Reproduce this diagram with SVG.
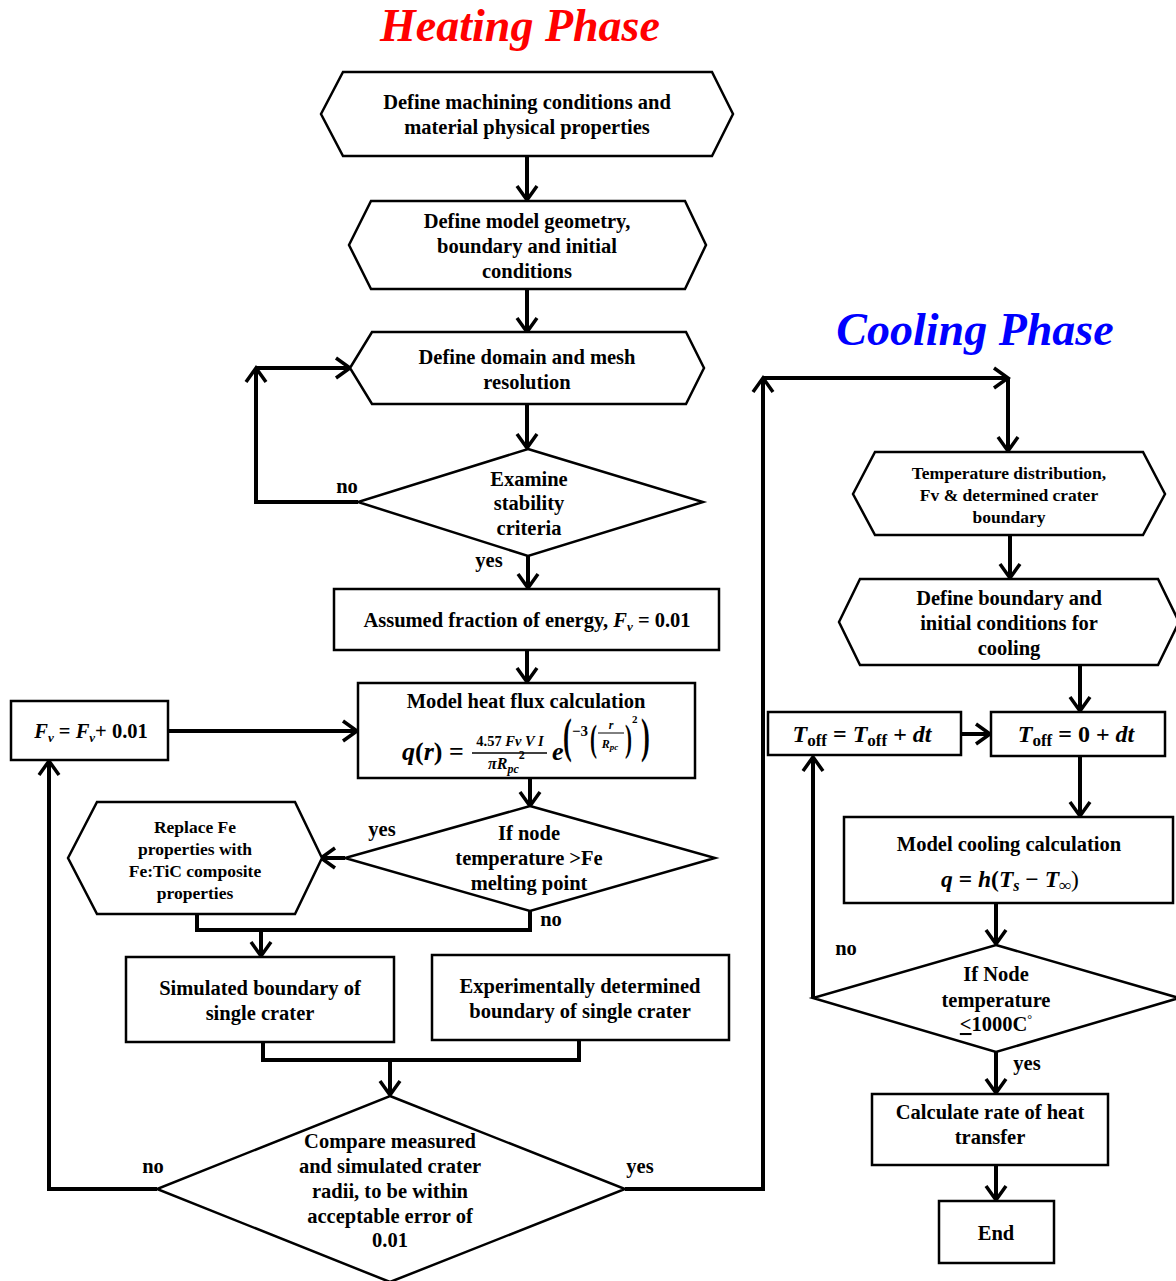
<svg xmlns="http://www.w3.org/2000/svg" width="1176" height="1281" viewBox="0 0 1176 1281">
<defs>
<style>
.s{fill:#fff;stroke:#000;stroke-width:2.5;stroke-linejoin:miter}
.c{fill:none;stroke:#000;stroke-width:4;stroke-linejoin:miter}
.t{font-family:"Liberation Serif","Times New Roman",serif;font-weight:bold;font-size:20.5px;text-anchor:middle;fill:#000}
.sm{font-size:17.5px}
.m{font-family:"Liberation Serif","Times New Roman",serif;font-weight:bold;font-style:italic;fill:#000}
.u{font-style:normal}
.title{font-family:"Liberation Serif","Times New Roman",serif;font-weight:bold;font-style:italic;font-size:46px;text-anchor:middle}
</style>
<marker id="a" markerUnits="userSpaceOnUse" markerWidth="24" markerHeight="24" viewBox="0 0 24 24" refX="20" refY="12" orient="auto">
<path d="M6,2 L20,12 L6,22" fill="none" stroke="#000" stroke-width="3.5"/>
</marker>
</defs>
<rect width="1176" height="1281" fill="#fff"/>

<text class="title" x="520" y="41" fill="#FF0000">Heating Phase</text>
<text class="title" x="975" y="345" fill="#0000FF">Cooling Phase</text>

<g id="connectors">
<line class="c" x1="527" y1="156" x2="527" y2="200" marker-end="url(#a)"/>
<line class="c" x1="527" y1="289" x2="527" y2="332" marker-end="url(#a)"/>
<line class="c" x1="527" y1="404" x2="527" y2="448" marker-end="url(#a)"/>
<polyline class="c" points="358,502 256,502 256,368" marker-end="url(#a)"/>
<line class="c" x1="256" y1="368" x2="350" y2="368" marker-end="url(#a)"/>
<line class="c" x1="528" y1="556" x2="528" y2="588" marker-end="url(#a)"/>
<line class="c" x1="527" y1="650" x2="527" y2="682" marker-end="url(#a)"/>
<line class="c" x1="168" y1="731" x2="357" y2="731" marker-end="url(#a)"/>
<line class="c" x1="530" y1="778" x2="530" y2="806" marker-end="url(#a)"/>
<line class="c" x1="345" y1="858" x2="321" y2="858" marker-end="url(#a)"/>
<polyline class="c" points="197,914 197,930 530,930 530,911"/>
<line class="c" x1="261" y1="930" x2="261" y2="956" marker-end="url(#a)"/>
<polyline class="c" points="263,1042 263,1060 579,1060 579,1040"/>
<line class="c" x1="390" y1="1060" x2="390" y2="1095" marker-end="url(#a)"/>
<polyline class="c" points="157,1189 49,1189 49,761" marker-end="url(#a)"/>
<polyline class="c" points="625,1189 763,1189 763,378" marker-end="url(#a)"/>
<line class="c" x1="763" y1="378" x2="1008" y2="378" marker-end="url(#a)"/>
<line class="c" x1="1008" y1="378" x2="1008" y2="451" marker-end="url(#a)"/>
<line class="c" x1="1010" y1="535" x2="1010" y2="578" marker-end="url(#a)"/>
<line class="c" x1="1080" y1="665" x2="1080" y2="711" marker-end="url(#a)"/>
<line class="c" x1="961" y1="734" x2="990" y2="734" marker-end="url(#a)"/>
<line class="c" x1="1080" y1="756" x2="1080" y2="816" marker-end="url(#a)"/>
<line class="c" x1="996" y1="903" x2="996" y2="944" marker-end="url(#a)"/>
<polyline class="c" points="813,998 813,757" marker-end="url(#a)"/>
<line class="c" x1="996" y1="1052" x2="996" y2="1093" marker-end="url(#a)"/>
<line class="c" x1="996" y1="1165" x2="996" y2="1200" marker-end="url(#a)"/>
<g class="t">
<text x="347" y="493">no</text>
<text x="489" y="567">yes</text>
<text x="382" y="836">yes</text>
<text x="551" y="926">no</text>
<text x="153" y="1173">no</text>
<text x="640" y="1173">yes</text>
<text x="846" y="955">no</text>
<text x="1027" y="1070">yes</text>
</g>
</g>

<g id="n1">
<polygon class="s" points="321,114 343,72 712,72 733,114 712,156 343,156"/>
<text class="t" x="527" y="109">Define machining conditions and</text>
<text class="t" x="527" y="134">material physical properties</text>
</g>
<g id="n2">
<polygon class="s" points="349,245 371,201 685,201 706,245 685,289 371,289"/>
<text class="t" x="527" y="228">Define model geometry,</text>
<text class="t" x="527" y="253">boundary and initial</text>
<text class="t" x="527" y="278">conditions</text>
</g>
<g id="n3">
<polygon class="s" points="350,368 372,332 686,332 704,368 686,404 372,404"/>
<text class="t" x="527" y="364">Define domain and mesh</text>
<text class="t" x="527" y="389">resolution</text>
</g>
<g id="d1">
<polygon class="s" points="528,449 703,502 528,556 358,502"/>
<text class="t" x="529" y="486">Examine</text>
<text class="t" x="529" y="510">stability</text>
<text class="t" x="529" y="535">criteria</text>
</g>
<g id="n4">
<rect class="s" x="334" y="589" width="385" height="61"/>
<text class="t" x="527" y="627">Assumed fraction of energy, <tspan font-style="italic">F</tspan><tspan font-style="italic" font-size="13" dy="4">v</tspan><tspan dy="-4"> = 0.01</tspan></text>
</g>
<g id="n5">
<rect class="s" x="358" y="683" width="337" height="95"/>
<text class="t" x="526" y="708">Model heat flux calculation</text>
<text class="m" x="402" y="760" font-size="26">q<tspan class="u">(</tspan>r<tspan class="u">) =</tspan></text>
<text class="m" x="510" y="746" font-size="14.5" text-anchor="middle"><tspan class="u">4.57</tspan> Fv V I</text>
<line x1="472" y1="753" x2="547" y2="753" stroke="#000" stroke-width="1.5"/>
<text class="m" x="488" y="769" font-size="16">πR<tspan font-size="12" dy="4">pc</tspan><tspan class="u" font-size="12" dy="-14">2</tspan></text>
<text class="m" x="552" y="760" font-size="26">e</text>
<text class="m u" transform="translate(563,752) scale(0.55,1)" font-size="48" font-weight="normal">(</text>
<text class="m u" x="572" y="736" font-size="15">−3</text>
<text class="m u" transform="translate(590,751) scale(0.55,1)" font-size="38" font-weight="normal">(</text>
<text class="m" x="611" y="729" font-size="12" text-anchor="middle">r</text>
<line x1="598" y1="733" x2="624" y2="733" stroke="#000" stroke-width="1"/>
<text class="m" x="610" y="748" font-size="12" text-anchor="middle">R<tspan font-size="9" dy="2">pc</tspan></text>
<text class="m u" transform="translate(625,751) scale(0.55,1)" font-size="38" font-weight="normal">)</text>
<text class="m u" x="632" y="723" font-size="11">2</text>
<text class="m u" transform="translate(641,752) scale(0.55,1)" font-size="48" font-weight="normal">)</text>
</g>
<g id="n6">
<rect class="s" x="11" y="701" width="157" height="59"/>
<text class="t" x="91" y="738" font-size="21.5"><tspan font-style="italic">F</tspan><tspan font-style="italic" font-size="13" dy="4">v</tspan><tspan dy="-4"> = </tspan><tspan font-style="italic">F</tspan><tspan font-style="italic" font-size="13" dy="4">v</tspan><tspan dy="-4">+ 0.01</tspan></text>
</g>
<g id="d2">
<polygon class="s" points="530,806 715,858 530,911 345,858"/>
<text class="t" x="529" y="840">If node</text>
<text class="t" x="529" y="865">temperature &gt;Fe</text>
<text class="t" x="529" y="890">melting point</text>
</g>
<g id="n7">
<polygon class="s" points="68,858 97,802 295,802 322,858 295,914 97,914"/>
<text class="t sm" x="195" y="833">Replace Fe</text>
<text class="t sm" x="195" y="855">properties with</text>
<text class="t sm" x="195" y="877">Fe:TiC composite</text>
<text class="t sm" x="195" y="899">properties</text>
</g>
<g id="n8">
<rect class="s" x="126" y="957" width="268" height="85"/>
<text class="t" x="260" y="995">Simulated boundary of</text>
<text class="t" x="260" y="1020">single crater</text>
</g>
<g id="n9">
<rect class="s" x="432" y="955" width="297" height="85"/>
<text class="t" x="580" y="993">Experimentally determined</text>
<text class="t" x="580" y="1018">boundary of single crater</text>
</g>
<g id="d3">
<polygon class="s" points="390,1096 625,1189 390,1282 157,1189"/>
<text class="t" x="390" y="1148">Compare measured</text>
<text class="t" x="390" y="1173">and simulated crater</text>
<text class="t" x="390" y="1198">radii, to be within</text>
<text class="t" x="390" y="1223">acceptable error of</text>
<text class="t" x="390" y="1247">0.01</text>
</g>
<g id="c1">
<polygon class="s" points="853,494 875,452 1143,452 1165,494 1143,535 875,535"/>
<text class="t sm" x="1009" y="479">Temperature distribution,</text>
<text class="t sm" x="1009" y="501">Fv &amp; determined crater</text>
<text class="t sm" x="1009" y="523">boundary</text>
</g>
<g id="c2">
<polygon class="s" points="839,622 860,579 1158,579 1179,622 1158,665 860,665"/>
<text class="t" x="1009" y="605">Define boundary and</text>
<text class="t" x="1009" y="630">initial conditions for</text>
<text class="t" x="1009" y="655">cooling</text>
</g>
<g id="c3">
<rect class="s" x="768" y="712" width="193" height="43"/>
<text class="m" x="862" y="742" font-size="24" text-anchor="middle">T<tspan class="u" font-size="17" dy="4">off</tspan><tspan class="u" dy="-4"> = </tspan>T<tspan class="u" font-size="17" dy="4">off</tspan><tspan class="u" dy="-4"> + </tspan>dt</text>
</g>
<g id="c4">
<rect class="s" x="991" y="712" width="174" height="44"/>
<text class="m" x="1076" y="742" font-size="24" text-anchor="middle">T<tspan class="u" font-size="17" dy="4">off</tspan><tspan class="u" dy="-4"> = 0 + </tspan>dt</text>
</g>
<g id="c5">
<rect class="s" x="844" y="817" width="329" height="86"/>
<text class="t" x="1009" y="851">Model cooling calculation</text>
<text class="m" x="1010" y="887" font-size="23.5" text-anchor="middle">q <tspan class="u">=</tspan> h<tspan class="u">(</tspan>T<tspan font-size="16" dy="4">s</tspan><tspan class="u" dy="-4"> − </tspan>T<tspan class="u" font-size="17" dy="4">∞</tspan><tspan class="u" dy="-4" font-weight="normal">)</tspan></text>
</g>
<g id="c6">
<polygon class="s" points="996,945 1179,998 996,1052 813,998"/>
<text class="t" x="996" y="981">If Node</text>
<text class="t" x="996" y="1007">temperature</text>
<text class="t" x="996" y="1031"><tspan text-decoration="underline">&lt;</tspan>1000C<tspan font-size="12" dy="-8" font-weight="normal">°</tspan></text>
</g>
<g id="c7">
<rect class="s" x="872" y="1094" width="236" height="71"/>
<text class="t" x="990" y="1119">Calculate rate of heat</text>
<text class="t" x="990" y="1144">transfer</text>
</g>
<g id="c8">
<rect class="s" x="939" y="1201" width="115" height="62"/>
<text class="t" x="996" y="1240">End</text>
</g>
</svg>
